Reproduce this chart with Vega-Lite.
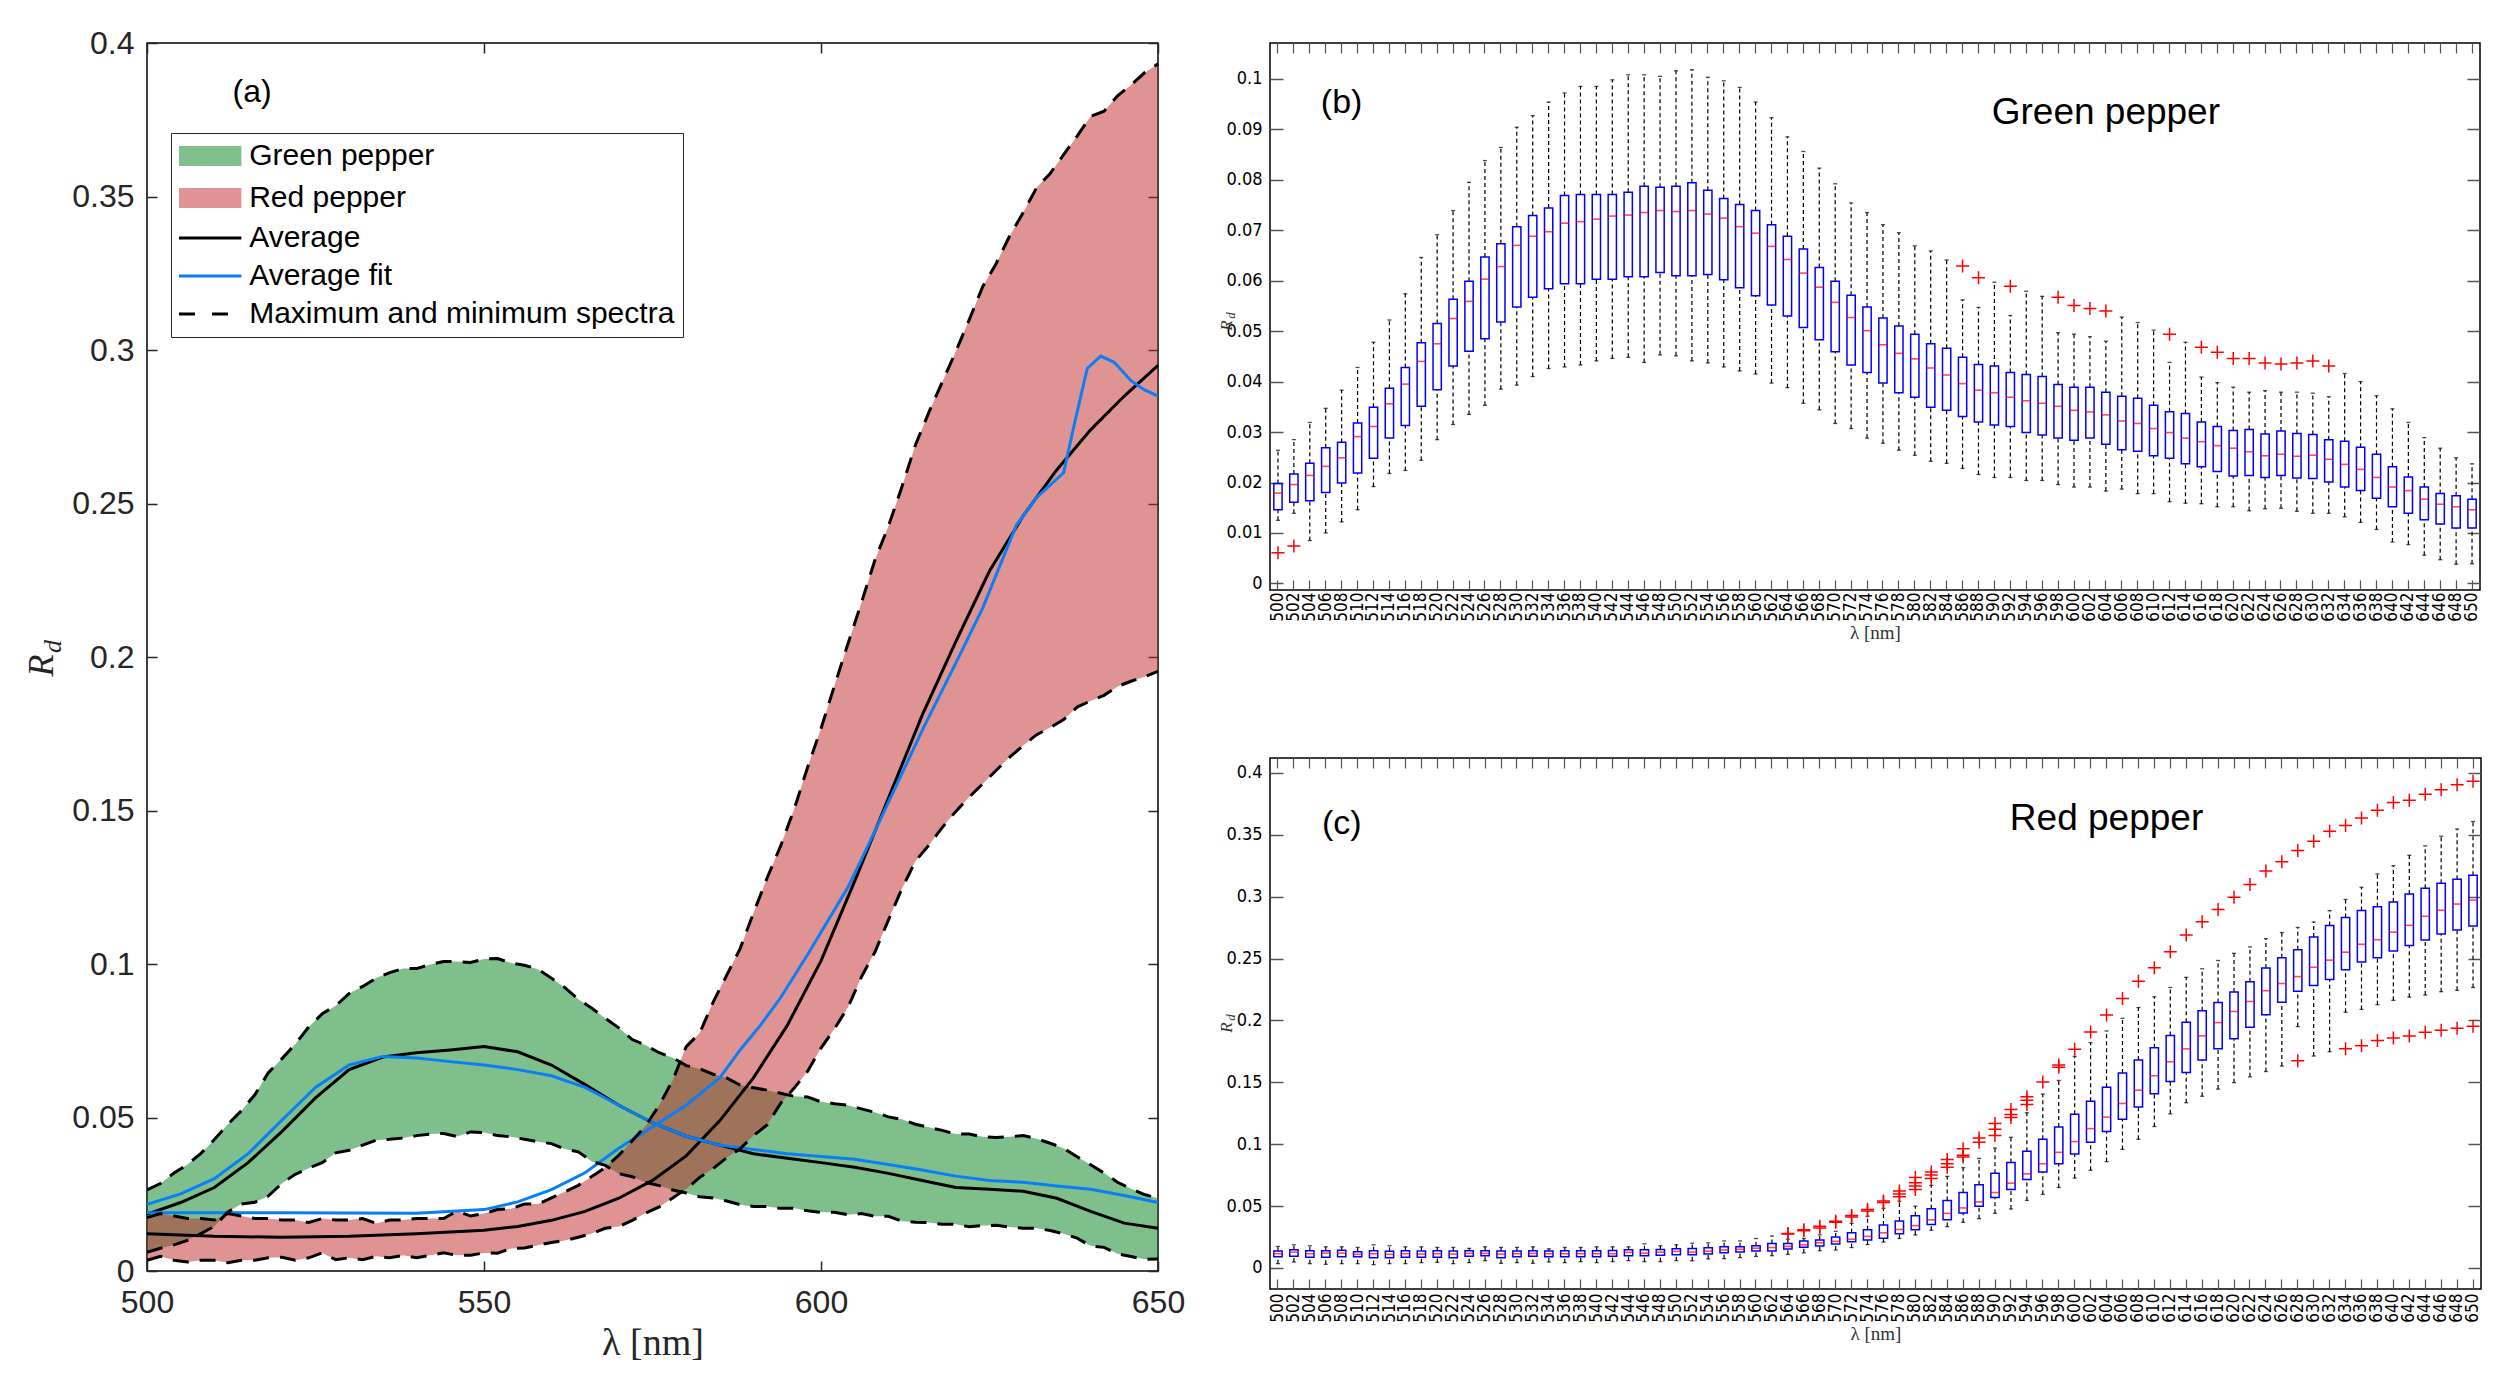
{
  "$schema": "https://vega.github.io/schema/vega-lite/v6.json",
  "background": "white",
  "padding": {"left": 22, "top": 26, "right": 5, "bottom": 5},
  "config": {
    "view": {"stroke": "black", "strokeWidth": 1.5},
    "axis": {"grid": false, "domain": false, "labelFlush": false, "zindex": 1}
  },
  "datasets": {
    "box": [
      {"p":"Green pepper","l":500,"lo":0.0125,"q1":0.0146,"md":0.0179,"q3":0.0198,"hi":0.0264,"mn":0.0061,"mx":0.0264},
      {"p":"Green pepper","l":502,"lo":0.0139,"q1":0.0161,"md":0.0196,"q3":0.0217,"hi":0.0285,"mn":0.0074,"mx":0.0285},
      {"p":"Green pepper","l":504,"lo":0.0085,"q1":0.0164,"md":0.0214,"q3":0.0238,"hi":0.0319,"mn":0.0085,"mx":0.0319},
      {"p":"Green pepper","l":506,"lo":0.0100,"q1":0.0180,"md":0.0232,"q3":0.0269,"hi":0.0347,"mn":0.0100,"mx":0.0347},
      {"p":"Green pepper","l":508,"lo":0.0122,"q1":0.0199,"md":0.0249,"q3":0.0280,"hi":0.0383,"mn":0.0122,"mx":0.0383},
      {"p":"Green pepper","l":510,"lo":0.0146,"q1":0.0219,"md":0.0291,"q3":0.0318,"hi":0.0428,"mn":0.0146,"mx":0.0428},
      {"p":"Green pepper","l":512,"lo":0.0192,"q1":0.0248,"md":0.0311,"q3":0.0349,"hi":0.0478,"mn":0.0192,"mx":0.0478},
      {"p":"Green pepper","l":514,"lo":0.0218,"q1":0.0288,"md":0.0356,"q3":0.0387,"hi":0.0522,"mn":0.0218,"mx":0.0522},
      {"p":"Green pepper","l":516,"lo":0.0224,"q1":0.0313,"md":0.0395,"q3":0.0428,"hi":0.0574,"mn":0.0224,"mx":0.0574},
      {"p":"Green pepper","l":518,"lo":0.0244,"q1":0.0351,"md":0.0440,"q3":0.0477,"hi":0.0646,"mn":0.0244,"mx":0.0646},
      {"p":"Green pepper","l":520,"lo":0.0285,"q1":0.0384,"md":0.0475,"q3":0.0515,"hi":0.0691,"mn":0.0285,"mx":0.0691},
      {"p":"Green pepper","l":522,"lo":0.0315,"q1":0.0431,"md":0.0525,"q3":0.0563,"hi":0.0739,"mn":0.0315,"mx":0.0739},
      {"p":"Green pepper","l":524,"lo":0.0335,"q1":0.0460,"md":0.0559,"q3":0.0599,"hi":0.0795,"mn":0.0335,"mx":0.0795},
      {"p":"Green pepper","l":526,"lo":0.0353,"q1":0.0485,"md":0.0603,"q3":0.0647,"hi":0.0838,"mn":0.0353,"mx":0.0838},
      {"p":"Green pepper","l":528,"lo":0.0385,"q1":0.0518,"md":0.0628,"q3":0.0673,"hi":0.0864,"mn":0.0385,"mx":0.0864},
      {"p":"Green pepper","l":530,"lo":0.0393,"q1":0.0548,"md":0.0670,"q3":0.0707,"hi":0.0904,"mn":0.0393,"mx":0.0904},
      {"p":"Green pepper","l":532,"lo":0.0410,"q1":0.0567,"md":0.0688,"q3":0.0729,"hi":0.0927,"mn":0.0410,"mx":0.0927},
      {"p":"Green pepper","l":534,"lo":0.0426,"q1":0.0584,"md":0.0697,"q3":0.0744,"hi":0.0954,"mn":0.0426,"mx":0.0954},
      {"p":"Green pepper","l":536,"lo":0.0429,"q1":0.0594,"md":0.0714,"q3":0.0769,"hi":0.0972,"mn":0.0429,"mx":0.0972},
      {"p":"Green pepper","l":538,"lo":0.0433,"q1":0.0594,"md":0.0717,"q3":0.0771,"hi":0.0985,"mn":0.0433,"mx":0.0985},
      {"p":"Green pepper","l":540,"lo":0.0441,"q1":0.0603,"md":0.0722,"q3":0.0771,"hi":0.0985,"mn":0.0441,"mx":0.0985},
      {"p":"Green pepper","l":542,"lo":0.0446,"q1":0.0603,"md":0.0728,"q3":0.0771,"hi":0.0998,"mn":0.0446,"mx":0.0998},
      {"p":"Green pepper","l":544,"lo":0.0448,"q1":0.0608,"md":0.0730,"q3":0.0775,"hi":0.1008,"mn":0.0448,"mx":0.1008},
      {"p":"Green pepper","l":546,"lo":0.0438,"q1":0.0608,"md":0.0735,"q3":0.0787,"hi":0.1008,"mn":0.0438,"mx":0.1008},
      {"p":"Green pepper","l":548,"lo":0.0453,"q1":0.0616,"md":0.0739,"q3":0.0785,"hi":0.1005,"mn":0.0453,"mx":0.1005},
      {"p":"Green pepper","l":550,"lo":0.0451,"q1":0.0610,"md":0.0737,"q3":0.0787,"hi":0.1016,"mn":0.0451,"mx":0.1016},
      {"p":"Green pepper","l":552,"lo":0.0441,"q1":0.0610,"md":0.0739,"q3":0.0794,"hi":0.1018,"mn":0.0441,"mx":0.1018},
      {"p":"Green pepper","l":554,"lo":0.0437,"q1":0.0612,"md":0.0732,"q3":0.0779,"hi":0.1003,"mn":0.0437,"mx":0.1003},
      {"p":"Green pepper","l":556,"lo":0.0429,"q1":0.0602,"md":0.0724,"q3":0.0763,"hi":0.0996,"mn":0.0429,"mx":0.0996},
      {"p":"Green pepper","l":558,"lo":0.0421,"q1":0.0586,"md":0.0707,"q3":0.0751,"hi":0.0983,"mn":0.0421,"mx":0.0983},
      {"p":"Green pepper","l":560,"lo":0.0415,"q1":0.0570,"md":0.0694,"q3":0.0739,"hi":0.0954,"mn":0.0415,"mx":0.0954},
      {"p":"Green pepper","l":562,"lo":0.0397,"q1":0.0552,"md":0.0668,"q3":0.0711,"hi":0.0923,"mn":0.0397,"mx":0.0923},
      {"p":"Green pepper","l":564,"lo":0.0388,"q1":0.0530,"md":0.0642,"q3":0.0688,"hi":0.0885,"mn":0.0388,"mx":0.0885},
      {"p":"Green pepper","l":566,"lo":0.0357,"q1":0.0507,"md":0.0615,"q3":0.0663,"hi":0.0856,"mn":0.0357,"mx":0.0856},
      {"p":"Green pepper","l":568,"lo":0.0344,"q1":0.0483,"md":0.0587,"q3":0.0626,"hi":0.0823,"mn":0.0344,"mx":0.0823},
      {"p":"Green pepper","l":570,"lo":0.0317,"q1":0.0459,"md":0.0557,"q3":0.0599,"hi":0.0792,"mn":0.0317,"mx":0.0792},
      {"p":"Green pepper","l":572,"lo":0.0307,"q1":0.0433,"md":0.0527,"q3":0.0571,"hi":0.0754,"mn":0.0307,"mx":0.0754},
      {"p":"Green pepper","l":574,"lo":0.0288,"q1":0.0418,"md":0.0501,"q3":0.0548,"hi":0.0735,"mn":0.0288,"mx":0.0735},
      {"p":"Green pepper","l":576,"lo":0.0278,"q1":0.0397,"md":0.0473,"q3":0.0526,"hi":0.0711,"mn":0.0278,"mx":0.0711},
      {"p":"Green pepper","l":578,"lo":0.0264,"q1":0.0378,"md":0.0456,"q3":0.0510,"hi":0.0695,"mn":0.0264,"mx":0.0695},
      {"p":"Green pepper","l":580,"lo":0.0254,"q1":0.0369,"md":0.0445,"q3":0.0494,"hi":0.0669,"mn":0.0254,"mx":0.0669},
      {"p":"Green pepper","l":582,"lo":0.0242,"q1":0.0349,"md":0.0427,"q3":0.0475,"hi":0.0659,"mn":0.0242,"mx":0.0659},
      {"p":"Green pepper","l":584,"lo":0.0238,"q1":0.0343,"md":0.0413,"q3":0.0466,"hi":0.0641,"mn":0.0238,"mx":0.0641},
      {"p":"Green pepper","l":586,"lo":0.0228,"q1":0.0331,"md":0.0396,"q3":0.0448,"hi":0.0562,"mn":0.0228,"mx":0.0629},
      {"p":"Green pepper","l":588,"lo":0.0216,"q1":0.0320,"md":0.0383,"q3":0.0434,"hi":0.0547,"mn":0.0216,"mx":0.0606},
      {"p":"Green pepper","l":590,"lo":0.0210,"q1":0.0314,"md":0.0378,"q3":0.0431,"hi":0.0597,"mn":0.0210,"mx":0.0597},
      {"p":"Green pepper","l":592,"lo":0.0210,"q1":0.0311,"md":0.0369,"q3":0.0418,"hi":0.0531,"mn":0.0210,"mx":0.0589},
      {"p":"Green pepper","l":594,"lo":0.0204,"q1":0.0299,"md":0.0362,"q3":0.0414,"hi":0.0579,"mn":0.0204,"mx":0.0579},
      {"p":"Green pepper","l":596,"lo":0.0204,"q1":0.0294,"md":0.0357,"q3":0.0410,"hi":0.0569,"mn":0.0204,"mx":0.0569},
      {"p":"Green pepper","l":598,"lo":0.0196,"q1":0.0288,"md":0.0351,"q3":0.0394,"hi":0.0497,"mn":0.0196,"mx":0.0567},
      {"p":"Green pepper","l":600,"lo":0.0191,"q1":0.0284,"md":0.0343,"q3":0.0389,"hi":0.0494,"mn":0.0191,"mx":0.0551},
      {"p":"Green pepper","l":602,"lo":0.0191,"q1":0.0288,"md":0.0340,"q3":0.0389,"hi":0.0489,"mn":0.0191,"mx":0.0545},
      {"p":"Green pepper","l":604,"lo":0.0183,"q1":0.0276,"md":0.0334,"q3":0.0379,"hi":0.0480,"mn":0.0183,"mx":0.0540},
      {"p":"Green pepper","l":606,"lo":0.0187,"q1":0.0265,"md":0.0322,"q3":0.0371,"hi":0.0528,"mn":0.0187,"mx":0.0528},
      {"p":"Green pepper","l":608,"lo":0.0178,"q1":0.0262,"md":0.0317,"q3":0.0367,"hi":0.0517,"mn":0.0178,"mx":0.0517},
      {"p":"Green pepper","l":610,"lo":0.0178,"q1":0.0253,"md":0.0307,"q3":0.0353,"hi":0.0502,"mn":0.0178,"mx":0.0502},
      {"p":"Green pepper","l":612,"lo":0.0162,"q1":0.0248,"md":0.0299,"q3":0.0340,"hi":0.0438,"mn":0.0162,"mx":0.0494},
      {"p":"Green pepper","l":614,"lo":0.0159,"q1":0.0237,"md":0.0288,"q3":0.0337,"hi":0.0478,"mn":0.0159,"mx":0.0478},
      {"p":"Green pepper","l":616,"lo":0.0158,"q1":0.0231,"md":0.0281,"q3":0.0320,"hi":0.0409,"mn":0.0158,"mx":0.0468},
      {"p":"Green pepper","l":618,"lo":0.0152,"q1":0.0222,"md":0.0273,"q3":0.0311,"hi":0.0398,"mn":0.0152,"mx":0.0458},
      {"p":"Green pepper","l":620,"lo":0.0152,"q1":0.0213,"md":0.0268,"q3":0.0303,"hi":0.0389,"mn":0.0152,"mx":0.0446},
      {"p":"Green pepper","l":622,"lo":0.0144,"q1":0.0214,"md":0.0261,"q3":0.0305,"hi":0.0379,"mn":0.0144,"mx":0.0446},
      {"p":"Green pepper","l":624,"lo":0.0148,"q1":0.0210,"md":0.0253,"q3":0.0296,"hi":0.0382,"mn":0.0148,"mx":0.0437},
      {"p":"Green pepper","l":626,"lo":0.0149,"q1":0.0214,"md":0.0256,"q3":0.0302,"hi":0.0379,"mn":0.0149,"mx":0.0435},
      {"p":"Green pepper","l":628,"lo":0.0143,"q1":0.0209,"md":0.0252,"q3":0.0297,"hi":0.0379,"mn":0.0143,"mx":0.0437},
      {"p":"Green pepper","l":630,"lo":0.0139,"q1":0.0208,"md":0.0254,"q3":0.0295,"hi":0.0377,"mn":0.0139,"mx":0.0441},
      {"p":"Green pepper","l":632,"lo":0.0139,"q1":0.0201,"md":0.0246,"q3":0.0285,"hi":0.0370,"mn":0.0139,"mx":0.0431},
      {"p":"Green pepper","l":634,"lo":0.0132,"q1":0.0191,"md":0.0236,"q3":0.0282,"hi":0.0416,"mn":0.0132,"mx":0.0416},
      {"p":"Green pepper","l":636,"lo":0.0121,"q1":0.0184,"md":0.0226,"q3":0.0270,"hi":0.0400,"mn":0.0121,"mx":0.0400},
      {"p":"Green pepper","l":638,"lo":0.0107,"q1":0.0169,"md":0.0210,"q3":0.0256,"hi":0.0372,"mn":0.0107,"mx":0.0372},
      {"p":"Green pepper","l":640,"lo":0.0082,"q1":0.0152,"md":0.0191,"q3":0.0231,"hi":0.0346,"mn":0.0082,"mx":0.0346},
      {"p":"Green pepper","l":642,"lo":0.0077,"q1":0.0139,"md":0.0184,"q3":0.0211,"hi":0.0319,"mn":0.0077,"mx":0.0319},
      {"p":"Green pepper","l":644,"lo":0.0056,"q1":0.0126,"md":0.0167,"q3":0.0191,"hi":0.0289,"mn":0.0056,"mx":0.0289},
      {"p":"Green pepper","l":646,"lo":0.0047,"q1":0.0118,"md":0.0157,"q3":0.0178,"hi":0.0268,"mn":0.0047,"mx":0.0268},
      {"p":"Green pepper","l":648,"lo":0.0038,"q1":0.0110,"md":0.0152,"q3":0.0174,"hi":0.0249,"mn":0.0038,"mx":0.0249},
      {"p":"Green pepper","l":650,"lo":0.0039,"q1":0.0110,"md":0.0146,"q3":0.0167,"hi":0.0237,"mn":0.0039,"mx":0.0237},
      {"p":"Red pepper","l":500,"lo":0.0035,"q1":0.0091,"md":0.0115,"q3":0.0136,"hi":0.0174,"mn":0.0035,"mx":0.0174},
      {"p":"Red pepper","l":502,"lo":0.0048,"q1":0.0094,"md":0.0128,"q3":0.0147,"hi":0.0187,"mn":0.0048,"mx":0.0187},
      {"p":"Red pepper","l":504,"lo":0.0035,"q1":0.0086,"md":0.0115,"q3":0.0139,"hi":0.0179,"mn":0.0035,"mx":0.0179},
      {"p":"Red pepper","l":506,"lo":0.0029,"q1":0.0086,"md":0.0120,"q3":0.0139,"hi":0.0171,"mn":0.0029,"mx":0.0171},
      {"p":"Red pepper","l":508,"lo":0.0035,"q1":0.0091,"md":0.0120,"q3":0.0144,"hi":0.0171,"mn":0.0035,"mx":0.0171},
      {"p":"Red pepper","l":510,"lo":0.0035,"q1":0.0091,"md":0.0110,"q3":0.0131,"hi":0.0166,"mn":0.0035,"mx":0.0166},
      {"p":"Red pepper","l":512,"lo":0.0027,"q1":0.0083,"md":0.0115,"q3":0.0139,"hi":0.0187,"mn":0.0027,"mx":0.0187},
      {"p":"Red pepper","l":514,"lo":0.0035,"q1":0.0083,"md":0.0110,"q3":0.0134,"hi":0.0179,"mn":0.0035,"mx":0.0179},
      {"p":"Red pepper","l":516,"lo":0.0035,"q1":0.0086,"md":0.0115,"q3":0.0139,"hi":0.0171,"mn":0.0035,"mx":0.0171},
      {"p":"Red pepper","l":518,"lo":0.0043,"q1":0.0086,"md":0.0112,"q3":0.0136,"hi":0.0171,"mn":0.0043,"mx":0.0171},
      {"p":"Red pepper","l":520,"lo":0.0045,"q1":0.0086,"md":0.0115,"q3":0.0139,"hi":0.0166,"mn":0.0045,"mx":0.0166},
      {"p":"Red pepper","l":522,"lo":0.0035,"q1":0.0083,"md":0.0112,"q3":0.0136,"hi":0.0166,"mn":0.0035,"mx":0.0166},
      {"p":"Red pepper","l":524,"lo":0.0043,"q1":0.0094,"md":0.0118,"q3":0.0139,"hi":0.0158,"mn":0.0043,"mx":0.0158},
      {"p":"Red pepper","l":526,"lo":0.0059,"q1":0.0099,"md":0.0118,"q3":0.0139,"hi":0.0171,"mn":0.0059,"mx":0.0171},
      {"p":"Red pepper","l":528,"lo":0.0037,"q1":0.0083,"md":0.0112,"q3":0.0136,"hi":0.0166,"mn":0.0037,"mx":0.0166},
      {"p":"Red pepper","l":530,"lo":0.0043,"q1":0.0091,"md":0.0115,"q3":0.0136,"hi":0.0166,"mn":0.0043,"mx":0.0166},
      {"p":"Red pepper","l":532,"lo":0.0037,"q1":0.0094,"md":0.0118,"q3":0.0139,"hi":0.0171,"mn":0.0037,"mx":0.0171},
      {"p":"Red pepper","l":534,"lo":0.0048,"q1":0.0091,"md":0.0115,"q3":0.0136,"hi":0.0155,"mn":0.0048,"mx":0.0155},
      {"p":"Red pepper","l":536,"lo":0.0043,"q1":0.0091,"md":0.0115,"q3":0.0139,"hi":0.0166,"mn":0.0043,"mx":0.0166},
      {"p":"Red pepper","l":538,"lo":0.0051,"q1":0.0091,"md":0.0115,"q3":0.0139,"hi":0.0166,"mn":0.0051,"mx":0.0166},
      {"p":"Red pepper","l":540,"lo":0.0043,"q1":0.0091,"md":0.0115,"q3":0.0139,"hi":0.0171,"mn":0.0043,"mx":0.0171},
      {"p":"Red pepper","l":542,"lo":0.0051,"q1":0.0094,"md":0.0115,"q3":0.0142,"hi":0.0171,"mn":0.0051,"mx":0.0171},
      {"p":"Red pepper","l":544,"lo":0.0059,"q1":0.0099,"md":0.0126,"q3":0.0147,"hi":0.0171,"mn":0.0059,"mx":0.0171},
      {"p":"Red pepper","l":546,"lo":0.0051,"q1":0.0099,"md":0.0120,"q3":0.0147,"hi":0.0195,"mn":0.0051,"mx":0.0195},
      {"p":"Red pepper","l":548,"lo":0.0051,"q1":0.0102,"md":0.0128,"q3":0.0150,"hi":0.0179,"mn":0.0051,"mx":0.0179},
      {"p":"Red pepper","l":550,"lo":0.0059,"q1":0.0107,"md":0.0134,"q3":0.0155,"hi":0.0187,"mn":0.0059,"mx":0.0187},
      {"p":"Red pepper","l":552,"lo":0.0058,"q1":0.0107,"md":0.0128,"q3":0.0157,"hi":0.0200,"mn":0.0058,"mx":0.0200},
      {"p":"Red pepper","l":554,"lo":0.0073,"q1":0.0113,"md":0.0136,"q3":0.0163,"hi":0.0203,"mn":0.0073,"mx":0.0203},
      {"p":"Red pepper","l":556,"lo":0.0075,"q1":0.0122,"md":0.0145,"q3":0.0171,"hi":0.0218,"mn":0.0075,"mx":0.0218},
      {"p":"Red pepper","l":558,"lo":0.0084,"q1":0.0128,"md":0.0151,"q3":0.0171,"hi":0.0218,"mn":0.0084,"mx":0.0218},
      {"p":"Red pepper","l":560,"lo":0.0093,"q1":0.0136,"md":0.0160,"q3":0.0180,"hi":0.0238,"mn":0.0093,"mx":0.0238},
      {"p":"Red pepper","l":562,"lo":0.0099,"q1":0.0136,"md":0.0165,"q3":0.0197,"hi":0.0258,"mn":0.0099,"mx":0.0258},
      {"p":"Red pepper","l":564,"lo":0.0110,"q1":0.0154,"md":0.0174,"q3":0.0197,"hi":0.0232,"mn":0.0110,"mx":0.0279},
      {"p":"Red pepper","l":566,"lo":0.0122,"q1":0.0168,"md":0.0186,"q3":0.0218,"hi":0.0238,"mn":0.0122,"mx":0.0308},
      {"p":"Red pepper","l":568,"lo":0.0139,"q1":0.0177,"md":0.0203,"q3":0.0226,"hi":0.0267,"mn":0.0139,"mx":0.0337},
      {"p":"Red pepper","l":570,"lo":0.0145,"q1":0.0194,"md":0.0215,"q3":0.0250,"hi":0.0296,"mn":0.0145,"mx":0.0377},
      {"p":"Red pepper","l":572,"lo":0.0165,"q1":0.0212,"md":0.0232,"q3":0.0284,"hi":0.0360,"mn":0.0165,"mx":0.0424},
      {"p":"Red pepper","l":574,"lo":0.0189,"q1":0.0226,"md":0.0255,"q3":0.0308,"hi":0.0418,"mn":0.0189,"mx":0.0473},
      {"p":"Red pepper","l":576,"lo":0.0209,"q1":0.0241,"md":0.0284,"q3":0.0348,"hi":0.0482,"mn":0.0209,"mx":0.0540},
      {"p":"Red pepper","l":578,"lo":0.0238,"q1":0.0276,"md":0.0311,"q3":0.0380,"hi":0.0540,"mn":0.0238,"mx":0.0621},
      {"p":"Red pepper","l":580,"lo":0.0267,"q1":0.0308,"md":0.0342,"q3":0.0421,"hi":0.0499,"mn":0.0267,"mx":0.0731},
      {"p":"Red pepper","l":582,"lo":0.0305,"q1":0.0351,"md":0.0389,"q3":0.0479,"hi":0.0667,"mn":0.0305,"mx":0.0775},
      {"p":"Red pepper","l":584,"lo":0.0334,"q1":0.0389,"md":0.0441,"q3":0.0546,"hi":0.0740,"mn":0.0334,"mx":0.0876},
      {"p":"Red pepper","l":586,"lo":0.0369,"q1":0.0444,"md":0.0485,"q3":0.0609,"hi":0.0810,"mn":0.0369,"mx":0.0963},
      {"p":"Red pepper","l":588,"lo":0.0398,"q1":0.0499,"md":0.0534,"q3":0.0673,"hi":0.0885,"mn":0.0398,"mx":0.1050},
      {"p":"Red pepper","l":590,"lo":0.0441,"q1":0.0569,"md":0.0609,"q3":0.0766,"hi":0.0969,"mn":0.0441,"mx":0.1167},
      {"p":"Red pepper","l":592,"lo":0.0476,"q1":0.0633,"md":0.0685,"q3":0.0853,"hi":0.1056,"mn":0.0476,"mx":0.1280},
      {"p":"Red pepper","l":594,"lo":0.0546,"q1":0.0714,"md":0.0760,"q3":0.0943,"hi":0.1254,"mn":0.0546,"mx":0.1384},
      {"p":"Red pepper","l":596,"lo":0.0595,"q1":0.0775,"md":0.0842,"q3":0.1039,"hi":0.1405,"mn":0.0595,"mx":0.1503},
      {"p":"Red pepper","l":598,"lo":0.0650,"q1":0.0842,"md":0.0934,"q3":0.1138,"hi":0.1515,"mn":0.0650,"mx":0.1640},
      {"p":"Red pepper","l":600,"lo":0.0726,"q1":0.0920,"md":0.1021,"q3":0.1242,"hi":0.1709,"mn":0.0726,"mx":0.1767},
      {"p":"Red pepper","l":602,"lo":0.0789,"q1":0.1016,"md":0.1126,"q3":0.1347,"hi":0.1820,"mn":0.0789,"mx":0.1907},
      {"p":"Red pepper","l":604,"lo":0.0859,"q1":0.1103,"md":0.1219,"q3":0.1460,"hi":0.1915,"mn":0.0859,"mx":0.2043},
      {"p":"Red pepper","l":606,"lo":0.0958,"q1":0.1201,"md":0.1329,"q3":0.1576,"hi":0.2017,"mn":0.0958,"mx":0.2177},
      {"p":"Red pepper","l":608,"lo":0.1039,"q1":0.1300,"md":0.1436,"q3":0.1680,"hi":0.2104,"mn":0.1039,"mx":0.2316},
      {"p":"Red pepper","l":610,"lo":0.1143,"q1":0.1407,"md":0.1553,"q3":0.1779,"hi":0.2191,"mn":0.1143,"mx":0.2426},
      {"p":"Red pepper","l":612,"lo":0.1245,"q1":0.1506,"md":0.1666,"q3":0.1878,"hi":0.2266,"mn":0.1245,"mx":0.2554},
      {"p":"Red pepper","l":614,"lo":0.1335,"q1":0.1579,"md":0.1770,"q3":0.1985,"hi":0.2348,"mn":0.1335,"mx":0.2690},
      {"p":"Red pepper","l":616,"lo":0.1387,"q1":0.1680,"md":0.1875,"q3":0.2078,"hi":0.2417,"mn":0.1387,"mx":0.2797},
      {"p":"Red pepper","l":618,"lo":0.1445,"q1":0.1770,"md":0.1982,"q3":0.2145,"hi":0.2484,"mn":0.1445,"mx":0.2896},
      {"p":"Red pepper","l":620,"lo":0.1497,"q1":0.1851,"md":0.2072,"q3":0.2229,"hi":0.2542,"mn":0.1497,"mx":0.2995},
      {"p":"Red pepper","l":622,"lo":0.1544,"q1":0.1944,"md":0.2153,"q3":0.2313,"hi":0.2594,"mn":0.1544,"mx":0.3099},
      {"p":"Red pepper","l":624,"lo":0.1587,"q1":0.2046,"md":0.2240,"q3":0.2423,"hi":0.2661,"mn":0.1587,"mx":0.3207},
      {"p":"Red pepper","l":626,"lo":0.1631,"q1":0.2147,"md":0.2298,"q3":0.2507,"hi":0.2710,"mn":0.1631,"mx":0.3282},
      {"p":"Red pepper","l":628,"lo":0.1950,"q1":0.2235,"md":0.2354,"q3":0.2571,"hi":0.2751,"mn":0.1674,"mx":0.3372},
      {"p":"Red pepper","l":630,"lo":0.1712,"q1":0.2281,"md":0.2429,"q3":0.2673,"hi":0.2795,"mn":0.1712,"mx":0.3448},
      {"p":"Red pepper","l":632,"lo":0.1747,"q1":0.2330,"md":0.2487,"q3":0.2766,"hi":0.2887,"mn":0.1747,"mx":0.3529},
      {"p":"Red pepper","l":634,"lo":0.2066,"q1":0.2409,"md":0.2551,"q3":0.2832,"hi":0.2977,"mn":0.1770,"mx":0.3575},
      {"p":"Red pepper","l":636,"lo":0.2089,"q1":0.2472,"md":0.2615,"q3":0.2887,"hi":0.3076,"mn":0.1796,"mx":0.3636},
      {"p":"Red pepper","l":638,"lo":0.2127,"q1":0.2507,"md":0.2652,"q3":0.2919,"hi":0.3183,"mn":0.1837,"mx":0.3697},
      {"p":"Red pepper","l":640,"lo":0.2162,"q1":0.2560,"md":0.2713,"q3":0.2957,"hi":0.3250,"mn":0.1857,"mx":0.3761},
      {"p":"Red pepper","l":642,"lo":0.2188,"q1":0.2606,"md":0.2768,"q3":0.3021,"hi":0.3334,"mn":0.1875,"mx":0.3778},
      {"p":"Red pepper","l":644,"lo":0.2205,"q1":0.2649,"md":0.2841,"q3":0.3067,"hi":0.3410,"mn":0.1904,"mx":0.3828},
      {"p":"Red pepper","l":646,"lo":0.2232,"q1":0.2699,"md":0.2890,"q3":0.3108,"hi":0.3488,"mn":0.1921,"mx":0.3863},
      {"p":"Red pepper","l":648,"lo":0.2243,"q1":0.2731,"md":0.2940,"q3":0.3140,"hi":0.3546,"mn":0.1936,"mx":0.3903},
      {"p":"Red pepper","l":650,"lo":0.2266,"q1":0.2763,"md":0.2972,"q3":0.3172,"hi":0.3607,"mn":0.1953,"mx":0.3932}
    ],
    "out": [
      {"p":"Green pepper","l":500,"v":0.0061},{"p":"Green pepper","l":502,"v":0.0074},
      {"p":"Green pepper","l":586,"v":0.0629},{"p":"Green pepper","l":588,"v":0.0606},
      {"p":"Green pepper","l":592,"v":0.0589},{"p":"Green pepper","l":598,"v":0.0567},
      {"p":"Green pepper","l":600,"v":0.0551},{"p":"Green pepper","l":602,"v":0.0545},
      {"p":"Green pepper","l":604,"v":0.0540},{"p":"Green pepper","l":612,"v":0.0494},
      {"p":"Green pepper","l":616,"v":0.0468},{"p":"Green pepper","l":618,"v":0.0458},
      {"p":"Green pepper","l":620,"v":0.0446},{"p":"Green pepper","l":622,"v":0.0446},
      {"p":"Green pepper","l":624,"v":0.0437},{"p":"Green pepper","l":626,"v":0.0435},
      {"p":"Green pepper","l":628,"v":0.0437},{"p":"Green pepper","l":630,"v":0.0441},
      {"p":"Green pepper","l":632,"v":0.0431},
      {"p":"Red pepper","l":564,"v":0.0279},{"p":"Red pepper","l":564,"v":0.0274},
      {"p":"Red pepper","l":566,"v":0.0308},{"p":"Red pepper","l":566,"v":0.0300},
      {"p":"Red pepper","l":568,"v":0.0337},{"p":"Red pepper","l":568,"v":0.0322},
      {"p":"Red pepper","l":570,"v":0.0377},{"p":"Red pepper","l":570,"v":0.0369},
      {"p":"Red pepper","l":572,"v":0.0424},{"p":"Red pepper","l":572,"v":0.0412},
      {"p":"Red pepper","l":574,"v":0.0473},{"p":"Red pepper","l":574,"v":0.0460},
      {"p":"Red pepper","l":576,"v":0.0540},{"p":"Red pepper","l":576,"v":0.0528},
      {"p":"Red pepper","l":578,"v":0.0621},{"p":"Red pepper","l":578,"v":0.0598},{"p":"Red pepper","l":578,"v":0.0575},
      {"p":"Red pepper","l":580,"v":0.0731},{"p":"Red pepper","l":580,"v":0.0688},{"p":"Red pepper","l":580,"v":0.0662},{"p":"Red pepper","l":580,"v":0.0633},
      {"p":"Red pepper","l":582,"v":0.0775},{"p":"Red pepper","l":582,"v":0.0752},{"p":"Red pepper","l":582,"v":0.0723},
      {"p":"Red pepper","l":584,"v":0.0876},{"p":"Red pepper","l":584,"v":0.0842},{"p":"Red pepper","l":584,"v":0.0813},
      {"p":"Red pepper","l":586,"v":0.0963},{"p":"Red pepper","l":586,"v":0.0911},{"p":"Red pepper","l":586,"v":0.0897},
      {"p":"Red pepper","l":588,"v":0.1050},{"p":"Red pepper","l":588,"v":0.1016},
      {"p":"Red pepper","l":590,"v":0.1167},{"p":"Red pepper","l":590,"v":0.1120},{"p":"Red pepper","l":590,"v":0.1070},
      {"p":"Red pepper","l":592,"v":0.1280},{"p":"Red pepper","l":592,"v":0.1239},{"p":"Red pepper","l":592,"v":0.1215},
      {"p":"Red pepper","l":594,"v":0.1384},{"p":"Red pepper","l":594,"v":0.1355},{"p":"Red pepper","l":594,"v":0.1320},
      {"p":"Red pepper","l":596,"v":0.1503},
      {"p":"Red pepper","l":598,"v":0.1640},{"p":"Red pepper","l":598,"v":0.1622},
      {"p":"Red pepper","l":600,"v":0.1767},{"p":"Red pepper","l":602,"v":0.1907},
      {"p":"Red pepper","l":604,"v":0.2043},{"p":"Red pepper","l":606,"v":0.2177},
      {"p":"Red pepper","l":608,"v":0.2316},{"p":"Red pepper","l":610,"v":0.2426},
      {"p":"Red pepper","l":612,"v":0.2554},{"p":"Red pepper","l":614,"v":0.2690},
      {"p":"Red pepper","l":616,"v":0.2797},{"p":"Red pepper","l":618,"v":0.2896},
      {"p":"Red pepper","l":620,"v":0.2995},{"p":"Red pepper","l":622,"v":0.3099},
      {"p":"Red pepper","l":624,"v":0.3207},{"p":"Red pepper","l":626,"v":0.3282},
      {"p":"Red pepper","l":628,"v":0.3372},{"p":"Red pepper","l":628,"v":0.1674},
      {"p":"Red pepper","l":630,"v":0.3448},{"p":"Red pepper","l":632,"v":0.3529},
      {"p":"Red pepper","l":634,"v":0.3575},{"p":"Red pepper","l":634,"v":0.1770},
      {"p":"Red pepper","l":636,"v":0.3636},{"p":"Red pepper","l":636,"v":0.1796},
      {"p":"Red pepper","l":638,"v":0.3697},{"p":"Red pepper","l":638,"v":0.1837},
      {"p":"Red pepper","l":640,"v":0.3761},{"p":"Red pepper","l":640,"v":0.1857},
      {"p":"Red pepper","l":642,"v":0.3778},{"p":"Red pepper","l":642,"v":0.1875},
      {"p":"Red pepper","l":644,"v":0.3828},{"p":"Red pepper","l":644,"v":0.1904},
      {"p":"Red pepper","l":646,"v":0.3863},{"p":"Red pepper","l":646,"v":0.1921},
      {"p":"Red pepper","l":648,"v":0.3903},{"p":"Red pepper","l":648,"v":0.1936},
      {"p":"Red pepper","l":650,"v":0.3932},{"p":"Red pepper","l":650,"v":0.1953}
    ],
    "avg": [
      {"s":"Average","p":"G","l":500,"v":0.0185},{"s":"Average","p":"G","l":505,"v":0.0223},
      {"s":"Average","p":"G","l":510,"v":0.0272},{"s":"Average","p":"G","l":515,"v":0.0353},
      {"s":"Average","p":"G","l":520,"v":0.0454},{"s":"Average","p":"G","l":525,"v":0.0564},
      {"s":"Average","p":"G","l":530,"v":0.0656},{"s":"Average","p":"G","l":535,"v":0.0697},
      {"s":"Average","p":"G","l":540,"v":0.0711},{"s":"Average","p":"G","l":545,"v":0.0720},
      {"s":"Average","p":"G","l":550,"v":0.0731},{"s":"Average","p":"G","l":555,"v":0.0714},
      {"s":"Average","p":"G","l":560,"v":0.0671},{"s":"Average","p":"G","l":565,"v":0.0607},
      {"s":"Average","p":"G","l":570,"v":0.0540},{"s":"Average","p":"G","l":575,"v":0.0483},
      {"s":"Average","p":"G","l":580,"v":0.0439},{"s":"Average","p":"G","l":585,"v":0.0410},
      {"s":"Average","p":"G","l":590,"v":0.0382},{"s":"Average","p":"G","l":595,"v":0.0367},
      {"s":"Average","p":"G","l":600,"v":0.0353},{"s":"Average","p":"G","l":605,"v":0.0338},
      {"s":"Average","p":"G","l":610,"v":0.0318},{"s":"Average","p":"G","l":615,"v":0.0295},
      {"s":"Average","p":"G","l":620,"v":0.0272},{"s":"Average","p":"G","l":625,"v":0.0266},
      {"s":"Average","p":"G","l":630,"v":0.0260},{"s":"Average","p":"G","l":635,"v":0.0237},
      {"s":"Average","p":"G","l":640,"v":0.0194},{"s":"Average","p":"G","l":645,"v":0.0156},
      {"s":"Average","p":"G","l":650,"v":0.0139},
      {"s":"Average fit","p":"G","l":500,"v":0.0217},{"s":"Average fit","p":"G","l":505,"v":0.0251},
      {"s":"Average fit","p":"G","l":510,"v":0.0301},{"s":"Average fit","p":"G","l":515,"v":0.0382},
      {"s":"Average fit","p":"G","l":520,"v":0.0491},{"s":"Average fit","p":"G","l":525,"v":0.0598},
      {"s":"Average fit","p":"G","l":530,"v":0.0671},{"s":"Average fit","p":"G","l":535,"v":0.0699},
      {"s":"Average fit","p":"G","l":540,"v":0.0694},{"s":"Average fit","p":"G","l":545,"v":0.0682},
      {"s":"Average fit","p":"G","l":550,"v":0.0671},{"s":"Average fit","p":"G","l":555,"v":0.0656},
      {"s":"Average fit","p":"G","l":560,"v":0.0636},{"s":"Average fit","p":"G","l":565,"v":0.0598},
      {"s":"Average fit","p":"G","l":570,"v":0.0540},{"s":"Average fit","p":"G","l":575,"v":0.0483},
      {"s":"Average fit","p":"G","l":580,"v":0.0439},{"s":"Average fit","p":"G","l":585,"v":0.0410},
      {"s":"Average fit","p":"G","l":590,"v":0.0396},{"s":"Average fit","p":"G","l":595,"v":0.0382},
      {"s":"Average fit","p":"G","l":600,"v":0.0373},{"s":"Average fit","p":"G","l":605,"v":0.0364},
      {"s":"Average fit","p":"G","l":610,"v":0.0347},{"s":"Average fit","p":"G","l":615,"v":0.0329},
      {"s":"Average fit","p":"G","l":620,"v":0.0309},{"s":"Average fit","p":"G","l":625,"v":0.0295},
      {"s":"Average fit","p":"G","l":630,"v":0.0289},{"s":"Average fit","p":"G","l":635,"v":0.0277},
      {"s":"Average fit","p":"G","l":640,"v":0.0266},{"s":"Average fit","p":"G","l":645,"v":0.0246},
      {"s":"Average fit","p":"G","l":650,"v":0.0223},
      {"s":"Average","p":"R","l":500,"v":0.0121},{"s":"Average","p":"R","l":510,"v":0.0113},
      {"s":"Average","p":"R","l":520,"v":0.0110},{"s":"Average","p":"R","l":530,"v":0.0113},
      {"s":"Average","p":"R","l":540,"v":0.0121},{"s":"Average","p":"R","l":545,"v":0.0127},
      {"s":"Average","p":"R","l":550,"v":0.0133},{"s":"Average","p":"R","l":555,"v":0.0145},
      {"s":"Average","p":"R","l":560,"v":0.0165},{"s":"Average","p":"R","l":565,"v":0.0194},
      {"s":"Average","p":"R","l":570,"v":0.0237},{"s":"Average","p":"R","l":575,"v":0.0295},
      {"s":"Average","p":"R","l":580,"v":0.0375},{"s":"Average","p":"R","l":585,"v":0.0490},
      {"s":"Average","p":"R","l":590,"v":0.0630},{"s":"Average","p":"R","l":595,"v":0.0800},
      {"s":"Average","p":"R","l":600,"v":0.1010},{"s":"Average","p":"R","l":605,"v":0.1270},
      {"s":"Average","p":"R","l":610,"v":0.1540},{"s":"Average","p":"R","l":615,"v":0.1810},
      {"s":"Average","p":"R","l":620,"v":0.2050},{"s":"Average","p":"R","l":625,"v":0.2280},
      {"s":"Average","p":"R","l":630,"v":0.2460},{"s":"Average","p":"R","l":635,"v":0.2610},
      {"s":"Average","p":"R","l":640,"v":0.2740},{"s":"Average","p":"R","l":645,"v":0.2850},
      {"s":"Average","p":"R","l":650,"v":0.2950},
      {"s":"Average fit","p":"R","l":500,"v":0.0190},{"s":"Average fit","p":"R","l":520,"v":0.0190},
      {"s":"Average fit","p":"R","l":540,"v":0.0188},{"s":"Average fit","p":"R","l":550,"v":0.0200},
      {"s":"Average fit","p":"R","l":555,"v":0.0225},{"s":"Average fit","p":"R","l":560,"v":0.0265},
      {"s":"Average fit","p":"R","l":565,"v":0.0320},{"s":"Average fit","p":"R","l":570,"v":0.0400},
      {"s":"Average fit","p":"R","l":575,"v":0.0470},{"s":"Average fit","p":"R","l":580,"v":0.0540},
      {"s":"Average fit","p":"R","l":585,"v":0.0630},{"s":"Average fit","p":"R","l":588,"v":0.0720},
      {"s":"Average fit","p":"R","l":591,"v":0.0800},{"s":"Average fit","p":"R","l":594,"v":0.0890},
      {"s":"Average fit","p":"R","l":598,"v":0.1030},{"s":"Average fit","p":"R","l":601,"v":0.1140},
      {"s":"Average fit","p":"R","l":604,"v":0.1250},{"s":"Average fit","p":"R","l":606,"v":0.1340},
      {"s":"Average fit","p":"R","l":609,"v":0.1480},{"s":"Average fit","p":"R","l":612,"v":0.1620},
      {"s":"Average fit","p":"R","l":615,"v":0.1760},{"s":"Average fit","p":"R","l":620,"v":0.1980},
      {"s":"Average fit","p":"R","l":624,"v":0.2160},{"s":"Average fit","p":"R","l":629,"v":0.2430},
      {"s":"Average fit","p":"R","l":632,"v":0.2520},{"s":"Average fit","p":"R","l":636,"v":0.2600},
      {"s":"Average fit","p":"R","l":637.5,"v":0.2750},{"s":"Average fit","p":"R","l":639.5,"v":0.2940},
      {"s":"Average fit","p":"R","l":641.5,"v":0.2980},{"s":"Average fit","p":"R","l":643.5,"v":0.2960},
      {"s":"Average fit","p":"R","l":646,"v":0.2900},{"s":"Average fit","p":"R","l":648,"v":0.2870},
      {"s":"Average fit","p":"R","l":650,"v":0.2850}
    ],
    "notes": [
      {"panel":"a","t":"(a)","l":515.6,"v":0.384},
      {"panel":"b","t":"(b)","l":508,"v":0.0953},
      {"panel":"b","t":"Green pepper","l":604,"v":0.0933},
      {"panel":"c","t":"(c)","l":508,"v":0.359},
      {"panel":"c","t":"Red pepper","l":604,"v":0.363}
    ]
  },
  "spacing": 30,
  "hconcat": [
    {
      "width": 1011,
      "height": 1228,
      "layer": [
        {
          "data": {"name": "box"},
          "transform": [{"filter": "datum.p === 'Green pepper'"}],
          "mark": {"type": "area", "opacity": 0.5, "color": "#00801a"},
          "encoding": {
            "x": {"field": "l", "type": "quantitative", "scale": {"domain": [500, 650], "nice": false, "zero": false},
              "axis": {"orient": "bottom", "values": [500, 550, 600, 650], "tickSize": -10, "tickWidth": 1.5, "tickColor": "#262626",
                "labelFont": "Liberation Sans", "labelFontSize": 32, "labelColor": "#262626", "labelPadding": 26,
                "title": "λ [nm]", "titleFont": "Liberation Serif", "titleFontSize": 38, "titleFontWeight": "normal", "titleColor": "#262626", "titlePadding": 6}},
            "y": {"field": "mx", "type": "quantitative", "scale": {"domain": [0, 0.4], "nice": false, "zero": false},
              "axis": {"orient": "left", "values": [0, 0.05, 0.1, 0.15, 0.2, 0.25, 0.3, 0.35, 0.4], "format": "~g", "tickSize": -10, "tickWidth": 1.5, "tickColor": "#262626",
                "labelFont": "Liberation Sans", "labelFontSize": 32, "labelColor": "#262626", "labelPadding": 23,
                "title": "R", "titleFont": "Liberation Serif", "titleFontStyle": "italic", "titleFontSize": 36, "titleFontWeight": "normal", "titleColor": "#262626",
                "titleX": -95, "titleY": 622, "titleAngle": 270, "titleAlign": "center", "titleBaseline": "alphabetic"}},
            "y2": {"field": "mn"}
          }
        },
        {
          "data": {"name": "box"},
          "transform": [{"filter": "datum.p === 'Red pepper'"}],
          "mark": {"type": "area", "opacity": 0.5, "color": "#c02828"},
          "encoding": {
            "x": {"field": "l", "type": "quantitative",
              "axis": {"orient": "top", "values": [500, 550, 600, 650], "tickSize": -10, "tickWidth": 1.5, "tickColor": "#262626", "labels": false, "title": null}},
            "y": {"field": "mx", "type": "quantitative",
              "axis": {"orient": "right", "values": [0, 0.05, 0.1, 0.15, 0.2, 0.25, 0.3, 0.35, 0.4], "tickSize": -10, "tickWidth": 1.5, "tickColor": "#262626", "labels": false, "title": null}},
            "y2": {"field": "mn"}
          }
        },
        {
          "data": {"name": "avg"},
          "transform": [{"filter": "datum.s === 'Average'"}],
          "mark": {"type": "line", "strokeWidth": 3, "color": "#000000"},
          "encoding": {
            "x": {"field": "l", "type": "quantitative", "axis": null},
            "y": {"field": "v", "type": "quantitative",
              "axis": {"orient": "left", "labels": false, "ticks": false, "title": "d", "titleFont": "Liberation Serif", "titleFontStyle": "italic", "titleFontSize": 26, "titleFontWeight": "normal", "titleColor": "#262626",
                "titleX": -87, "titleY": 603, "titleAngle": 270, "titleAlign": "center", "titleBaseline": "alphabetic"}},
            "detail": {"field": "p"}
          }
        },
        {
          "data": {"name": "avg"},
          "transform": [{"filter": "datum.s === 'Average fit'"}],
          "mark": {"type": "line", "strokeWidth": 3, "color": "#0a7ff5"},
          "encoding": {
            "x": {"field": "l", "type": "quantitative", "axis": null},
            "y": {"field": "v", "type": "quantitative", "axis": null},
            "detail": {"field": "p"}
          }
        },
        {
          "data": {"name": "box"},
          "transform": [{"fold": ["mn", "mx"], "as": ["k", "val"]}],
          "mark": {"type": "line", "strokeWidth": 3, "strokeDash": [16, 11], "color": "#000000"},
          "encoding": {
            "x": {"field": "l", "type": "quantitative", "axis": null},
            "y": {"field": "val", "type": "quantitative", "axis": null},
            "detail": [{"field": "p"}, {"field": "k"}]
          }
        },
        {
          "data": {"name": "avg"},
          "transform": [{"filter": "datum.l === 500 && datum.p === 'G' && datum.s === 'Average'"}],
          "mark": {"type": "point", "opacity": 0, "strokeWidth": 3, "strokeJoin": "bevel", "filled": false},
          "encoding": {
            "x": {"field": "l", "type": "quantitative", "axis": null},
            "y": {"field": "v", "type": "quantitative", "axis": null},
            "shape": {"field": "s", "type": "nominal",
              "scale": {"domain": ["Green pepper", "Red pepper", "Average", "Average fit", "Maximum and minimum spectra"],
                "range": ["M-20.8,-6.67H20.8V6.67H-20.8Z", "M-20.8,-6.67H20.8V6.67H-20.8Z", "M-20.8,0H20.8", "M-20.8,0H20.8", "M-20.8,0H20.8"]},
              "legend": {"title": null, "orient": "none", "legendX": 24, "legendY": 90, "padding": 8, "fillColor": "white", "strokeColor": "#262626", "cornerRadius": 0,
                "labelFont": "Liberation Sans", "labelFontSize": 30, "labelColor": "black", "labelLimit": 0, "labelOffset": 24,
                "rowPadding": 8, "symbolSize": 9, "symbolOffset": 16.2, "symbolStrokeWidth": 3, "symbolOpacity": 1}},
            "fill": {"field": "s", "type": "nominal",
              "scale": {"domain": ["Green pepper", "Red pepper", "Average", "Average fit", "Maximum and minimum spectra"],
                "range": ["#80c08c", "#e09494", "transparent", "transparent", "transparent"]},
              "legend": {"title": null, "orient": "none", "legendX": 24, "legendY": 90, "padding": 8, "fillColor": "white", "strokeColor": "#262626", "cornerRadius": 0,
                "labelFont": "Liberation Sans", "labelFontSize": 30, "labelColor": "black", "labelLimit": 0, "labelOffset": 24,
                "rowPadding": 8, "symbolSize": 9, "symbolOffset": 16.2, "symbolStrokeWidth": 3, "symbolOpacity": 1}},
            "stroke": {"field": "s", "type": "nominal",
              "scale": {"domain": ["Green pepper", "Red pepper", "Average", "Average fit", "Maximum and minimum spectra"],
                "range": ["transparent", "transparent", "#000000", "#0a7ff5", "#000000"]},
              "legend": {"title": null, "orient": "none", "legendX": 24, "legendY": 90, "padding": 8, "fillColor": "white", "strokeColor": "#262626", "cornerRadius": 0,
                "labelFont": "Liberation Sans", "labelFontSize": 30, "labelColor": "black", "labelLimit": 0, "labelOffset": 24,
                "rowPadding": 8, "symbolSize": 9, "symbolOffset": 16.2, "symbolStrokeWidth": 3, "symbolOpacity": 1}},
            "strokeDash": {"field": "s", "type": "nominal",
              "scale": {"domain": ["Green pepper", "Red pepper", "Average", "Average fit", "Maximum and minimum spectra"],
                "range": [[1, 0], [1, 0], [1, 0], [1, 0], [16, 17]]},
              "legend": {"title": null, "orient": "none", "legendX": 24, "legendY": 90, "padding": 8, "fillColor": "white", "strokeColor": "#262626", "cornerRadius": 0,
                "labelFont": "Liberation Sans", "labelFontSize": 30, "labelColor": "black", "labelLimit": 0, "labelOffset": 24,
                "rowPadding": 8, "symbolSize": 9, "symbolOffset": 16.2, "symbolStrokeWidth": 3, "symbolOpacity": 1}}
          }
        },
        {
          "data": {"name": "notes"},
          "transform": [{"filter": "datum.panel === 'a'"}],
          "mark": {"type": "text", "font": "Liberation Sans", "fontSize": 32, "color": "black", "align": "center", "baseline": "middle"},
          "encoding": {
            "x": {"field": "l", "type": "quantitative", "axis": null},
            "y": {"field": "v", "type": "quantitative", "axis": null},
            "text": {"field": "t"}
          }
        }
      ],
      "resolve": {"axis": {"x": "independent", "y": "independent"}}
    },
    {
      "spacing": 113,
      "vconcat": [
        {
          "width": 1210,
          "height": 547,
          "data": {"name": "box"},
          "transform": [{"filter": "datum.p === 'Green pepper'"}],
          "layer": [
            {
              "mark": {"type": "rule", "color": "black", "strokeWidth": 1.2, "strokeDash": [4, 3]},
              "encoding": {
                "x": {"field": "l", "type": "ordinal", "scale": {"paddingInner": 0, "paddingOuter": 0},
                  "axis": {"orient": "bottom", "labelAngle": 270, "labelAlign": "right", "labelBaseline": "middle",
                    "labelFont": "Liberation Sans Narrow, DejaVu Sans Condensed, Liberation Sans", "labelFontSize": 17, "labelColor": "black",
                    "tickSize": -10, "tickColor": "#555", "tickWidth": 1.2, "labelPadding": 12,
                    "title": "λ [nm]", "titleFont": "Liberation Serif", "titleFontSize": 19, "titleFontWeight": "normal", "titleColor": "#333", "titlePadding": 2}},
                "y": {"field": "q3", "type": "quantitative", "scale": {"domain": [-0.0013, 0.1071], "nice": false, "zero": false},
                  "axis": {"orient": "left", "values": [0, 0.01, 0.02, 0.03, 0.04, 0.05, 0.06, 0.07, 0.08, 0.09, 0.1], "format": "~g",
                    "labelFont": "Liberation Sans Narrow, DejaVu Sans Condensed, Liberation Sans", "labelFontSize": 18, "labelColor": "black",
                    "tickSize": -13, "tickColor": "#555", "tickWidth": 1.5, "labelPadding": 21,
                    "title": "R", "titleFont": "Liberation Serif", "titleFontStyle": "italic", "titleFontSize": 17, "titleFontWeight": "normal", "titleColor": "#333",
                    "titleX": -39, "titleY": 282, "titleAngle": 270, "titleAlign": "center", "titleBaseline": "alphabetic"}},
                "y2": {"field": "hi"}
              }
            },
            {
              "mark": {"type": "rule", "color": "black", "strokeWidth": 1.2, "strokeDash": [4, 3]},
              "encoding": {
                "x": {"field": "l", "type": "ordinal",
                  "axis": {"orient": "top", "labels": false, "title": null, "tickSize": -10, "tickColor": "#555", "tickWidth": 1.2}},
                "y": {"field": "lo", "type": "quantitative",
                  "axis": {"orient": "right", "values": [0, 0.01, 0.02, 0.03, 0.04, 0.05, 0.06, 0.07, 0.08, 0.09, 0.1], "labels": false, "title": null, "tickSize": -13, "tickColor": "#555", "tickWidth": 1.5}},
                "y2": {"field": "q1"}
              }
            },
            {
              "mark": {"type": "tick", "color": "black", "size": 4, "thickness": 1.3},
              "encoding": {
                "x": {"field": "l", "type": "ordinal", "axis": null},
                "y": {"field": "hi", "type": "quantitative",
                  "axis": {"orient": "left", "labels": false, "ticks": false, "title": "d", "titleFont": "Liberation Serif", "titleFontStyle": "italic", "titleFontSize": 13, "titleFontWeight": "normal", "titleColor": "#333",
                    "titleX": -36, "titleY": 272, "titleAngle": 270, "titleAlign": "center", "titleBaseline": "alphabetic"}}
              }
            },
            {
              "mark": {"type": "tick", "color": "black", "size": 4, "thickness": 1.3},
              "encoding": {
                "x": {"field": "l", "type": "ordinal", "axis": null},
                "y": {"field": "lo", "type": "quantitative", "axis": null}
              }
            },
            {
              "mark": {"type": "bar", "fill": "white", "fillOpacity": 0, "stroke": "#0000ff", "strokeWidth": 1.5, "width": {"band": 0.52}},
              "encoding": {
                "x": {"field": "l", "type": "ordinal", "axis": null},
                "y": {"field": "q1", "type": "quantitative", "axis": null},
                "y2": {"field": "q3"}
              }
            },
            {
              "mark": {"type": "tick", "color": "#ff0000", "size": 8.5, "thickness": 1.6},
              "encoding": {
                "x": {"field": "l", "type": "ordinal", "axis": null},
                "y": {"field": "md", "type": "quantitative", "axis": null}
              }
            },
            {
              "data": {"name": "out"},
              "transform": [{"filter": "datum.p === 'Green pepper'"}],
              "mark": {"type": "point", "shape": "M-1,0H1M0,-1V1", "filled": false, "stroke": "#ff0000", "strokeWidth": 1.5, "size": 169, "opacity": 1},
              "encoding": {
                "x": {"field": "l", "type": "ordinal", "axis": null},
                "y": {"field": "v", "type": "quantitative", "axis": null}
              }
            },
            {
              "data": {"name": "notes"},
              "transform": [{"filter": "datum.panel === 'b'"}],
              "mark": {"type": "text", "font": "Liberation Sans", "color": "black", "align": "center", "baseline": "middle"},
              "encoding": {
                "x": {"field": "l", "type": "ordinal", "axis": null},
                "y": {"field": "v", "type": "quantitative", "axis": null},
                "text": {"field": "t"},
                "size": {"condition": {"test": "datum.t === '(b)'", "value": 34}, "value": 37}
              }
            }
          ],
          "resolve": {"axis": {"x": "independent", "y": "independent"}}
        },
        {
          "width": 1211,
          "height": 531,
          "data": {"name": "box"},
          "transform": [{"filter": "datum.p === 'Red pepper'"}],
          "layer": [
            {
              "mark": {"type": "rule", "color": "black", "strokeWidth": 1.2, "strokeDash": [4, 3]},
              "encoding": {
                "x": {"field": "l", "type": "ordinal", "scale": {"paddingInner": 0, "paddingOuter": 0},
                  "axis": {"orient": "bottom", "labelAngle": 270, "labelAlign": "right", "labelBaseline": "middle",
                    "labelFont": "Liberation Sans Narrow, DejaVu Sans Condensed, Liberation Sans", "labelFontSize": 17, "labelColor": "black",
                    "tickSize": -10, "tickColor": "#555", "tickWidth": 1.2, "labelPadding": 14,
                    "title": "λ [nm]", "titleFont": "Liberation Serif", "titleFontSize": 19, "titleFontWeight": "normal", "titleColor": "#333", "titlePadding": 2}},
                "y": {"field": "q3", "type": "quantitative", "scale": {"domain": [-0.017, 0.412], "nice": false, "zero": false},
                  "axis": {"orient": "left", "values": [0, 0.05, 0.1, 0.15, 0.2, 0.25, 0.3, 0.35, 0.4], "format": "~g",
                    "labelFont": "Liberation Sans Narrow, DejaVu Sans Condensed, Liberation Sans", "labelFontSize": 18, "labelColor": "black",
                    "tickSize": -13, "tickColor": "#555", "tickWidth": 1.5, "labelPadding": 21,
                    "title": "R", "titleFont": "Liberation Serif", "titleFontStyle": "italic", "titleFontSize": 17, "titleFontWeight": "normal", "titleColor": "#333",
                    "titleX": -39, "titleY": 269, "titleAngle": 270, "titleAlign": "center", "titleBaseline": "alphabetic"}},
                "y2": {"field": "hi"}
              }
            },
            {
              "mark": {"type": "rule", "color": "black", "strokeWidth": 1.2, "strokeDash": [4, 3]},
              "encoding": {
                "x": {"field": "l", "type": "ordinal",
                  "axis": {"orient": "top", "labels": false, "title": null, "tickSize": -10, "tickColor": "#555", "tickWidth": 1.2}},
                "y": {"field": "lo", "type": "quantitative",
                  "axis": {"orient": "right", "values": [0, 0.05, 0.1, 0.15, 0.2, 0.25, 0.3, 0.35, 0.4], "labels": false, "title": null, "tickSize": -13, "tickColor": "#555", "tickWidth": 1.5}},
                "y2": {"field": "q1"}
              }
            },
            {
              "mark": {"type": "tick", "color": "black", "size": 4, "thickness": 1.3},
              "encoding": {
                "x": {"field": "l", "type": "ordinal", "axis": null},
                "y": {"field": "hi", "type": "quantitative",
                  "axis": {"orient": "left", "labels": false, "ticks": false, "title": "d", "titleFont": "Liberation Serif", "titleFontStyle": "italic", "titleFontSize": 13, "titleFontWeight": "normal", "titleColor": "#333",
                    "titleX": -36, "titleY": 259, "titleAngle": 270, "titleAlign": "center", "titleBaseline": "alphabetic"}}
              }
            },
            {
              "mark": {"type": "tick", "color": "black", "size": 4, "thickness": 1.3},
              "encoding": {
                "x": {"field": "l", "type": "ordinal", "axis": null},
                "y": {"field": "lo", "type": "quantitative", "axis": null}
              }
            },
            {
              "mark": {"type": "bar", "fill": "white", "fillOpacity": 0, "stroke": "#0000ff", "strokeWidth": 1.5, "width": {"band": 0.52}},
              "encoding": {
                "x": {"field": "l", "type": "ordinal", "axis": null},
                "y": {"field": "q1", "type": "quantitative", "axis": null},
                "y2": {"field": "q3"}
              }
            },
            {
              "mark": {"type": "tick", "color": "#ff0000", "size": 8.5, "thickness": 1.6},
              "encoding": {
                "x": {"field": "l", "type": "ordinal", "axis": null},
                "y": {"field": "md", "type": "quantitative", "axis": null}
              }
            },
            {
              "data": {"name": "out"},
              "transform": [{"filter": "datum.p === 'Red pepper'"}],
              "mark": {"type": "point", "shape": "M-1,0H1M0,-1V1", "filled": false, "stroke": "#ff0000", "strokeWidth": 1.5, "size": 169, "opacity": 1},
              "encoding": {
                "x": {"field": "l", "type": "ordinal", "axis": null},
                "y": {"field": "v", "type": "quantitative", "axis": null}
              }
            },
            {
              "data": {"name": "notes"},
              "transform": [{"filter": "datum.panel === 'c'"}],
              "mark": {"type": "text", "font": "Liberation Sans", "color": "black", "align": "center", "baseline": "middle"},
              "encoding": {
                "x": {"field": "l", "type": "ordinal", "axis": null},
                "y": {"field": "v", "type": "quantitative", "axis": null},
                "text": {"field": "t"},
                "size": {"condition": {"test": "datum.t === '(c)'", "value": 34}, "value": 37}
              }
            }
          ],
          "resolve": {"axis": {"x": "independent", "y": "independent"}}
        }
      ]
    }
  ]
}
